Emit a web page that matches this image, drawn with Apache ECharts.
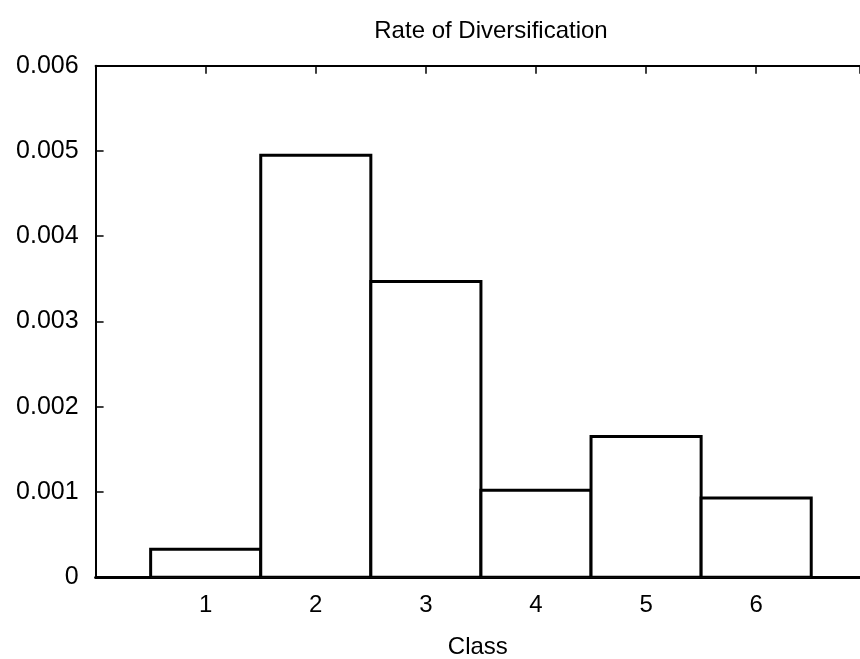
<!DOCTYPE html>
<html>
<head>
<meta charset="utf-8">
<script src="https://cdn.jsdelivr.net/npm/echarts@6/dist/echarts.min.js"></script>
<style>
    html, body { margin: 0; padding: 0; background: #fff; }
    #chart { width: 860px; height: 659px; }
</style>
</head>
<body>
<div id="chart"></div>
<script>
var classes = [1, 2, 3, 4, 5, 6];
var rates = [0.00033, 0.00495, 0.00347, 0.00102, 0.00165, 0.00093];
var yTicks = ['0', '0.001', '0.002', '0.003', '0.004', '0.005', '0.006'];

var font = 'Liberation Sans, Arial, sans-serif';
var boxData = [];
for (var i = 0; i < classes.length; i++) {
    boxData.push([classes[i], rates[i]]);
}

// the plot runs off the right edge of the picture, so the x range stops short of 7
var xMax = 6.943;

var myChart = echarts.init(document.getElementById('chart'));
var option = {
    animation: false,
    backgroundColor: '#fff',
    title: {
        text: 'Rate of Diversification',
        left: 486,
        textAlign: 'center',
        top: 14,
        textStyle: { fontFamily: font, fontSize: 24, fontWeight: 'normal', color: '#000' }
    },
    grid: {
        left: 95.6,
        top: 65.7,
        bottom: 81.7,
        right: 0,
        outerBoundsMode: 'none',
        containLabel: false,
        show: false
    },
    xAxis: [
        {
            type: 'value',
            min: 0,
            max: xMax,
            interval: 1,
            name: 'Class',
            nameLocation: 'middle',
            nameGap: 58,
            nameTextStyle: { fontFamily: font, fontSize: 24, color: '#000' },
            splitLine: { show: false },
            axisLine: { show: true, onZero: false, lineStyle: { color: '#000', width: 3 } },
            axisTick: { show: true, inside: true, length: 8, lineStyle: { color: '#000', width: 1.5 } },
            axisLabel: {
                margin: 16,
                showMaxLabel: false,
                fontFamily: font, fontSize: 24, color: '#000',
                formatter: function (v) { return (v >= 1 && v <= 6) ? String(v) : ''; }
            }
        },
        {
            type: 'value',
            position: 'top',
            min: 0,
            max: xMax,
            interval: 1,
            splitLine: { show: false },
            axisLine: { show: true, onZero: false, lineStyle: { color: '#000', width: 2 } },
            axisTick: { show: true, inside: true, length: 8, lineStyle: { color: '#000', width: 1.5 } },
            axisLabel: { show: false }
        }
    ],
    yAxis: {
        type: 'value',
        min: 0,
        max: 0.006,
        interval: 0.001,
        splitLine: { show: false },
        axisLine: { show: true, lineStyle: { color: '#000', width: 2 } },
        axisTick: { show: true, inside: true, length: 8, lineStyle: { color: '#000', width: 1.5 } },
        axisLabel: {
            margin: 17,
            fontFamily: font, fontSize: 25, color: '#000',
            formatter: function (v, idx) { return yTicks[idx]; }
        }
    },
    series: [{
        type: 'custom',
        xAxisIndex: 0,
        clip: true,
        data: boxData,
        renderItem: function (params, api) {
            var x = api.value(0);
            var v = api.value(1);
            var p0 = api.coord([x - 0.5, 0]);
            var p1 = api.coord([x + 0.5, v]);
            return {
                type: 'rect',
                shape: { x: p0[0], y: p1[1], width: p1[0] - p0[0], height: p0[1] - p1[1] },
                style: { fill: '#fff', stroke: '#000', lineWidth: 3 }
            };
        }
    }]
};
myChart.setOption(option);
</script>
</body>
</html>
